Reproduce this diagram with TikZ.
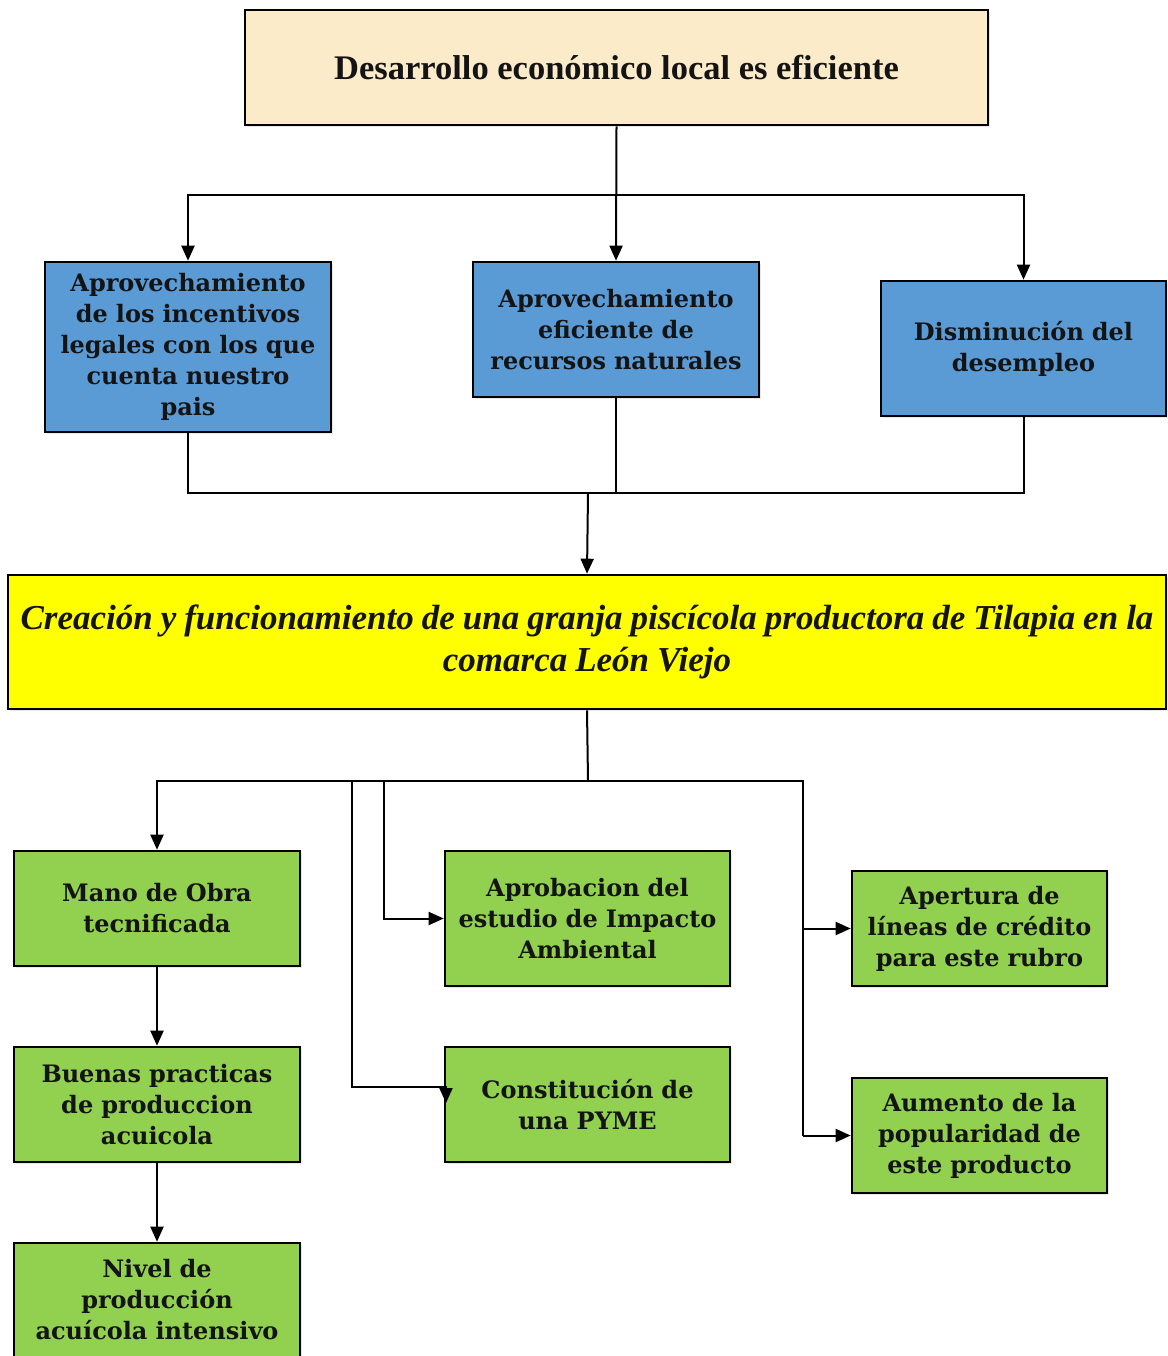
\documentclass[tikz,border=0pt]{standalone}
\usepackage{fontspec}
\setmainfont{Liberation Serif}
\newfontfamily\boxfont{DejaVu Serif}
\usetikzlibrary{arrows.meta,shadows}
\definecolor{peach}{HTML}{FCEBC9}
\definecolor{boxblue}{HTML}{5B9BD5}
\definecolor{boxgreen}{HTML}{92D050}
\definecolor{boxyellow}{HTML}{FFFF00}
\definecolor{inkdark}{HTML}{141414}
\newlength{\tightspace}
\setlength{\tightspace}{8pt}
\tikzset{
  box/.style={draw=black, line width=2.6pt, inner sep=0pt, align=center, text=inkdark,
    drop shadow={shadow xshift=2pt, shadow yshift=-2pt, opacity=0.18, fill=gray}},
  bluebox/.style={box, fill=boxblue, font=\boxfont\bfseries\fontsize{24}{31}\selectfont},
  greenbox/.style={box, fill=boxgreen, font=\boxfont\bfseries\fontsize{24}{31}\selectfont},
  link/.style={line width=2pt},
  arr/.style={link, -{Triangle[length=15pt,width=13pt]}}
}
\begin{document}
\begin{tikzpicture}[x=1pt,y=-1pt]
\useasboundingbox (0,0) rectangle (1167,1356);

% goal box
\node[box, fill=peach, minimum width=743pt, minimum height=115pt,
  font=\bfseries\fontsize{34.5}{40}\selectfont] (top) at (616.5,67.5)
  {Desarrollo económico local es eficiente};

% three blue factors
\node[bluebox, minimum width=286pt, minimum height=170pt, text width=280pt] (b1) at (188,347)
  {Aprovechamiento\\de los incentivos\\legales con los que\\cuenta nuestro\\pais};
\node[bluebox, minimum width=286pt, minimum height=135pt, text width=280pt] (b2) at (616,329.5)
  {Aprovechamiento\\eficiente de\\recursos naturales};
\node[bluebox, minimum width=285pt, minimum height=135pt, text width=280pt] (b3) at (1023.5,348.5)
  {Disminución del\\desempleo};

% central project box (tight word spacing)
\node[box, fill=boxyellow, minimum width=1158pt, minimum height=134pt,
  font=\bfseries\itshape\fontsize{35}{42}\selectfont] (yel) at (587,642)
  {\spaceskip=\tightspace Creación y funcionamiento de una granja piscícola productora de Tilapia en la\\
   \spaceskip=\tightspace comarca León Viejo};

% green results
\node[greenbox, minimum width=286pt, minimum height=115pt, text width=280pt] (g1) at (157,908.5)
  {Mano de Obra\\tecnificada};
\node[greenbox, minimum width=286pt, minimum height=115pt, text width=280pt] (g2) at (157,1104.5)
  {Buenas practicas\\de produccion\\acuicola};
\node[greenbox, minimum width=286pt, minimum height=114pt, text width=280pt] (g3) at (157,1300)
  {Nivel de\\producción\\acuícola intensivo};
\node[greenbox, minimum width=285pt, minimum height=135pt, text width=280pt] (g4) at (587.5,918.5)
  {Aprobacion del\\estudio de Impacto\\Ambiental};
\node[greenbox, minimum width=285pt, minimum height=115pt, text width=280pt] (g5) at (587.5,1104.5)
  {Constitución de\\una PYME};
\node[greenbox, minimum width=255pt, minimum height=115pt, text width=250pt] (g6) at (979.5,928.5)
  {Apertura de\\líneas de crédito\\para este rubro};
\node[greenbox, minimum width=255pt, minimum height=115pt, text width=250pt] (g7) at (979.5,1135.5)
  {Aumento de la\\popularidad de\\este producto};

% goal to factors
\coordinate (h1) at (616,195);
\draw[arr] (top.south) -- (b2.north);
\draw[arr] (h1) -| (b1.north);
\draw[arr] (h1) -| (b3.north);

% factors to project
\coordinate (h2) at (588,493);
\draw[link] (b1.south) |- (h2);
\draw[link] (b3.south) |- (h2);
\draw[link] (b2.south) -- (b2.south |- h2);
\draw[arr] (h2) -- (yel.north);

% project to results
\coordinate (h3) at (588,781);
\coordinate (k1) at (352,781);
\coordinate (k2) at (384,781);
\coordinate (r1) at (803,781);
\coordinate (k1e) at (446,1087);
\draw[link] (yel.south) -- (h3);
\draw[arr] (h3) -| (g1.north);
\draw[arr] (k2) |- (g4.west);
\draw[arr] (k1) |- (k1e) -- ++(0,16);
\draw[link] (h3) -- (r1) -- (r1 |- g7.west);
\draw[arr] (r1 |- g6.west) -- (g6.west);
\draw[arr] (r1 |- g7.west) -- (g7.west);

% chain on the left
\draw[arr] (g1.south) -- (g2.north);
\draw[arr] (g2.south) -- (g3.north);
\end{tikzpicture}
\end{document}
